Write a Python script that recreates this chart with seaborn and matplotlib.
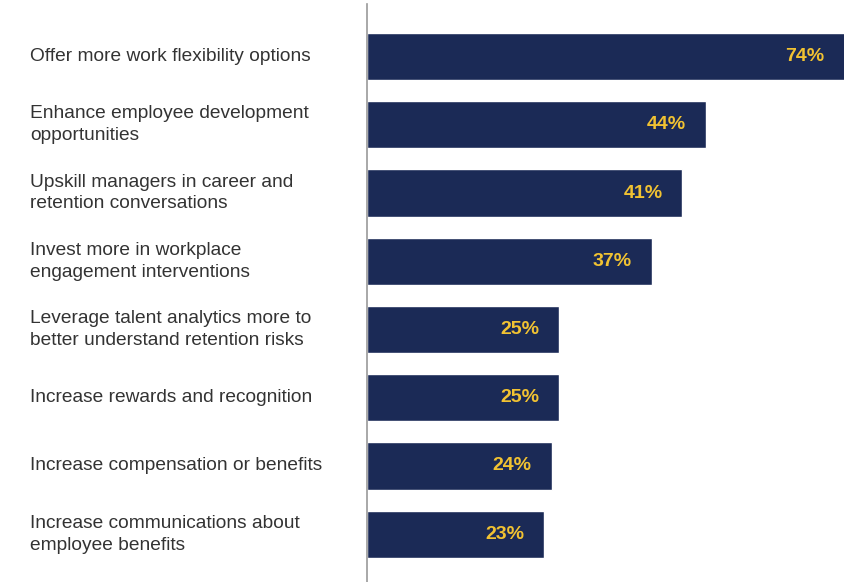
import matplotlib.pyplot as plt
import matplotlib.transforms as mtransforms
import pandas as pd
import seaborn as sns

actions = [
    'Offer more work flexibility options',
    'Enhance employee development\nopportunities',
    'Upskill managers in career and\nretention conversations',
    'Invest more in workplace\nengagement interventions',
    'Leverage talent analytics more to\nbetter understand retention risks',
    'Increase rewards and recognition',
    'Increase compensation or benefits',
    'Increase communications about\nemployee benefits',
]
shares = [74, 44, 41, 37, 25, 25, 24, 23]

navy = '#1b2a56'
gold = '#f1c232'

df = pd.DataFrame({'action': actions, 'share': shares})

sns.set_style('white')
plt.rcParams['font.family'] = ['Liberation Sans', 'DejaVu Sans']

fig = plt.figure(figsize=(8.49, 5.82), dpi=100)
ax = fig.add_axes([367 / 849, 0, (844 - 367) / 849, 578 / 582])

sns.barplot(data=df, x='share', y='action', color=navy, width=0.69,
            saturation=1, ax=ax, orient='h')

# the longest bar runs off the edge in the original
xmax = 62.0
ax.set_xlim(0, xmax)
ax.set_ylim(7.70, -0.77)

for i, v in enumerate(shares):
    ax.text(min(v, xmax) - 2.6, i, f'{v}%', ha='right', va='center',
            color=gold, fontsize=14, fontweight='bold')

ax.set_yticks(range(len(actions)))
ax.set_yticklabels([])
ax.tick_params(left=False, bottom=False)
ax.set_xticks([])
ax.set_xlabel('')
ax.set_ylabel('')

trans = mtransforms.blended_transform_factory(fig.transFigure, ax.transData)
for i, lab in enumerate(actions):
    ax.text(30 / 849, i, lab, transform=trans, ha='left', va='center',
            fontsize=13.8, color='#333333', linespacing=1.38, clip_on=False)

for side in ['top', 'right', 'bottom']:
    ax.spines[side].set_visible(False)
ax.spines['left'].set_color('#9a9a9a')
ax.spines['left'].set_linewidth(1.2)

fig.savefig('out.png', dpi=100)
